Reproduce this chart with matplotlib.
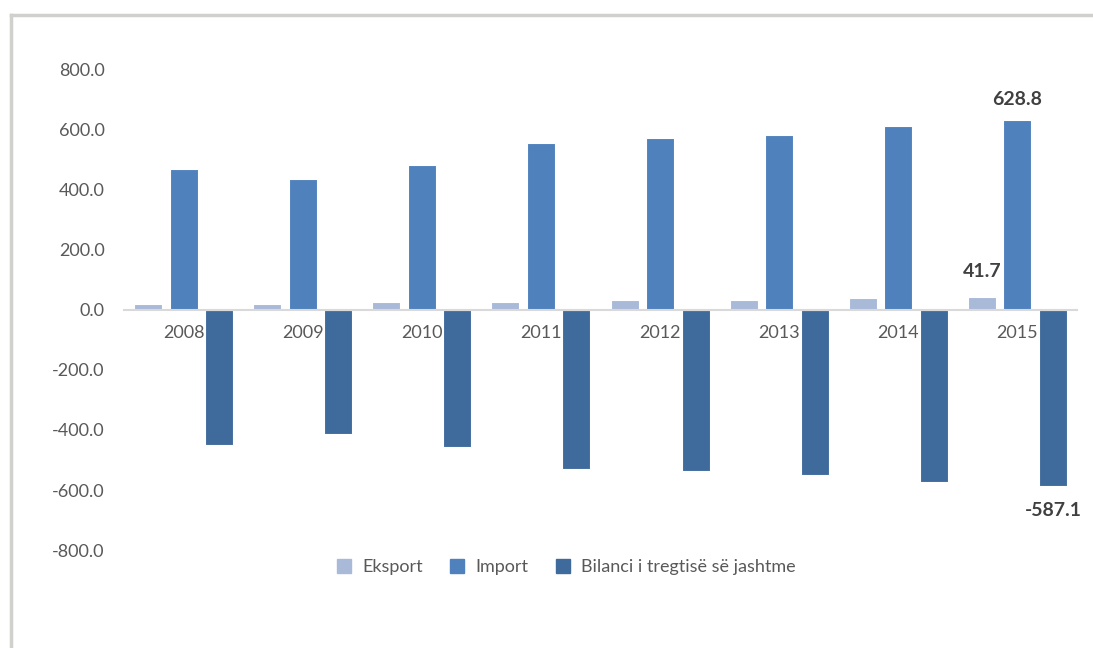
import numpy as np
import matplotlib
matplotlib.use("Agg")
import matplotlib.pyplot as plt
from matplotlib.lines import Line2D

years = ["2008", "2009", "2010", "2011", "2012", "2013", "2014", "2015"]
eksport = [20.0, 20.0, 25.0, 25.0, 32.0, 32.0, 38.0, 41.7]
importi = [469.0, 433.0, 481.0, 555.0, 569.0, 582.0, 612.0, 628.8]
bilanci = [-449.0, -413.0, -456.0, -530.0, -537.0, -550.0, -574.0, -587.1]

names = ["Eksport", "Import", "Bilanci i tregtisë së jashtme"]
colors = ["#A9B9D8", "#4F81BD", "#3F6A9C"]

plt.rcParams['font.family'] = ['Lato', 'DejaVu Sans']

fig = plt.figure(figsize=(10.93, 6.48), dpi=100)
ax = fig.add_axes([124 / 1093, 0.151, 953 / 1093, 0.7425])

x = np.arange(len(years))
w = 0.235
step = 0.298
for k, vals in enumerate([eksport, importi, bilanci]):
    ax.bar(x + (k - 1) * step, vals, w, color=colors[k], edgecolor="white",
           linewidth=0.8, label=names[k], zorder=3)

ax.set_xlim(-0.5, len(years) - 0.5)
ax.set_ylim(-800, 800)
ax.set_yticks(np.arange(-800, 801, 200))
ax.set_yticklabels([f"{v:.1f}" for v in np.arange(-800, 801, 200)])
ax.set_xticks(x)
ax.set_xticklabels(years)

for s in ["top", "right", "left"]:
    ax.spines[s].set_visible(False)
ax.spines["bottom"].set_position(("data", 0))
ax.spines["bottom"].set_color("#D9D9D9")
ax.spines["bottom"].set_linewidth(1.5)
ax.spines["bottom"].set_zorder(4)
ax.tick_params(axis="both", length=0, labelsize=13, colors="#595959")
ax.tick_params(axis="x", pad=11)
ax.tick_params(axis="y", pad=14)

# data labels for the last year
lab = dict(fontsize=14, fontweight="bold", color="#404040", ha="center", va="center")
ax.text(x[-1], importi[-1] + 69, f"{importi[-1]:.1f}", **lab)
ax.text(x[-1] - step, eksport[-1] + 84, f"{eksport[-1]:.1f}", **lab)
ax.text(x[-1] + step, bilanci[-1] - 81, f"{bilanci[-1]:.1f}", **lab)

handles = [Line2D([], [], marker="s", linestyle="none", markersize=10,
                  markerfacecolor=c, markeredgecolor=c) for c in colors]
fig.legend(handles, names, loc="center", bbox_to_anchor=(0.513, 0.125), ncol=3,
           frameon=False, fontsize=13, handletextpad=0.0, columnspacing=0.9,
           labelcolor="#595959")

# outer chart frame
fig.add_artist(Line2D([11 / 1093, 11 / 1093], [0, 1 - 15 / 648], color="#D0D0CC", lw=2.5))
fig.add_artist(Line2D([11 / 1093, 1], [1 - 15 / 648, 1 - 15 / 648], color="#D0D0CC", lw=2.5))

fig.savefig("out.png", dpi=100)
